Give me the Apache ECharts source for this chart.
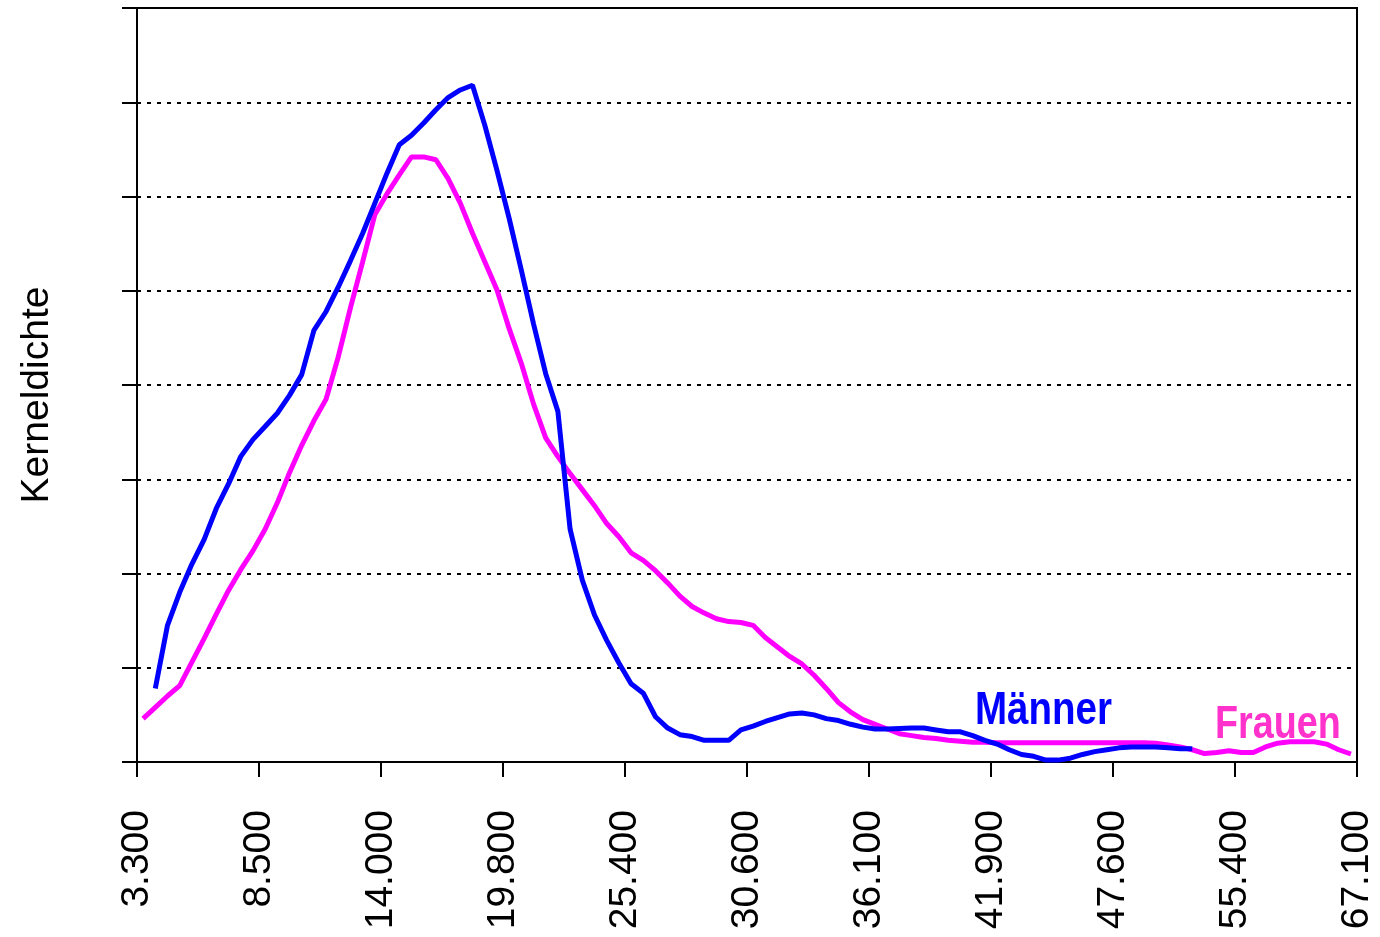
<!DOCTYPE html>
<html>
<head>
<meta charset="utf-8">
<script src="https://cdn.jsdelivr.net/npm/echarts/dist/echarts.min.js"></script>
<style>
  html, body { margin: 0; padding: 0; background: #fff; }
  #main { width: 1380px; height: 937px; }
</style>
</head>
<body>
<div id="main"></div>
<script>
// tick labels on the x axis, one every 10 grid points
var xLabels = ['3.300', '8.500', '14.000', '19.800', '25.400', '30.600', '36.100', '41.900', '47.600', '55.400', '67.100'];

// kernel density, 100 grid points (y axis has no labels, gridline = 1 unit)
var frauen = [
  0.46, 0.58, 0.70, 0.81, 1.06, 1.31, 1.57, 1.82, 2.04, 2.24,
  2.47, 2.75, 3.07, 3.36, 3.62, 3.85, 4.30, 4.82, 5.31, 5.81,
  6.03, 6.23, 6.42, 6.42, 6.39, 6.19, 5.93, 5.61, 5.31, 5.01,
  4.60, 4.23, 3.80, 3.44, 3.24, 3.06, 2.89, 2.72, 2.53, 2.39,
  2.22, 2.14, 2.03, 1.90, 1.76, 1.65, 1.58, 1.52, 1.49, 1.48,
  1.45, 1.32, 1.22, 1.12, 1.04, 0.92, 0.78, 0.63, 0.53, 0.45,
  0.40, 0.35, 0.30, 0.28, 0.26, 0.25, 0.23, 0.22, 0.21, 0.21,
  0.205, 0.205, 0.205, 0.205, 0.205, 0.205, 0.205, 0.205, 0.205, 0.205,
  0.205, 0.205, 0.205, 0.20, 0.18, 0.16, 0.13, 0.09, 0.10, 0.12,
  0.10, 0.10, 0.16, 0.20, 0.215, 0.215, 0.215, 0.19, 0.13, 0.085
];

var maenner = [
  null, 0.78, 1.45, 1.80, 2.10, 2.36, 2.69, 2.95, 3.24, 3.42,
  3.56, 3.70, 3.89, 4.11, 4.58, 4.78, 5.04, 5.32, 5.61, 5.93,
  6.25, 6.55, 6.65, 6.78, 6.92, 7.05, 7.13, 7.18, 6.76, 6.28,
  5.77, 5.22, 4.65, 4.12, 3.72, 2.47, 1.93, 1.56, 1.29, 1.05,
  0.83, 0.73, 0.48, 0.36, 0.29, 0.27, 0.23, 0.23, 0.23, 0.34,
  0.38, 0.43, 0.47, 0.51, 0.52, 0.50, 0.46, 0.44, 0.40, 0.37,
  0.35, 0.35, 0.355, 0.36, 0.36, 0.34, 0.32, 0.32, 0.28, 0.23,
  0.19, 0.13, 0.08, 0.06, 0.02, 0.02, 0.04, 0.08, 0.11, 0.13,
  0.15, 0.16, 0.16, 0.16, 0.15, 0.14, 0.14, null, null, null,
  null, null, null, null, null, null, null, null, null, null
];

// points sit in the middle of each grid cell
function toPoints(arr) {
  var out = [];
  arr.forEach(function (v, i) {
    if (v !== null) out.push([i + 0.5, v]);
  });
  return out;
}

var chart = echarts.init(document.getElementById('main'));

chart.setOption({
  animation: false,
  backgroundColor: '#fff',
  grid: {
    left: 137, top: 8, right: 23, bottom: 175,
    show: true, borderColor: '#000', borderWidth: 2
  },
  xAxis: {
    type: 'value',
    min: 0, max: 100, interval: 10,
    axisLine: { lineStyle: { color: '#000', width: 2 } },
    axisTick: { show: true, length: 15, lineStyle: { color: '#000', width: 2 } },
    splitLine: { show: false },
    axisLabel: {
      rotate: 90,
      margin: 48,
      color: '#000',
      fontFamily: 'Liberation Sans, Arial, sans-serif',
      fontSize: 39,
      showMinLabel: true,
      showMaxLabel: true,
      formatter: function (v) { return xLabels[Math.round(v / 10)]; }
    }
  },
  yAxis: {
    type: 'value',
    min: 0, max: 8, interval: 1,
    name: 'Kerneldichte',
    nameLocation: 'middle',
    nameGap: 80,
    nameTextStyle: {
      color: '#000', fontFamily: 'Liberation Sans, Arial, sans-serif', fontSize: 39,
      padding: [0, 20, 0, 0]
    },
    axisLine: { show: true, lineStyle: { color: '#000', width: 2 } },
    axisTick: { show: true, length: 15, lineStyle: { color: '#000', width: 2 } },
    axisLabel: { show: false },
    splitLine: { show: true, lineStyle: { color: '#000', width: 2, type: [4, 6] } }
  },
  series: [
    {
      name: 'Frauen', type: 'line', data: toPoints(frauen),
      symbol: 'none', lineStyle: { color: '#ff00ff', width: 5 }
    },
    {
      name: 'Männer', type: 'line', data: toPoints(maenner),
      symbol: 'none', lineStyle: { color: '#0000ff', width: 5 }
    }
  ],
  graphic: [
    {
      type: 'text', x: 975, y: 711, scaleX: 0.82,
      style: {
        text: 'Männer', fill: '#0000ff',
        font: 'bold 47px "Liberation Sans", Arial, sans-serif',
        textAlign: 'left', textVerticalAlign: 'middle'
      }
    },
    {
      type: 'text', x: 1215, y: 725, scaleX: 0.82,
      style: {
        text: 'Frauen', fill: '#ff33cc',
        font: 'bold 46px "Liberation Sans", Arial, sans-serif',
        textAlign: 'left', textVerticalAlign: 'middle'
      }
    }
  ]
});
</script>
</body>
</html>
